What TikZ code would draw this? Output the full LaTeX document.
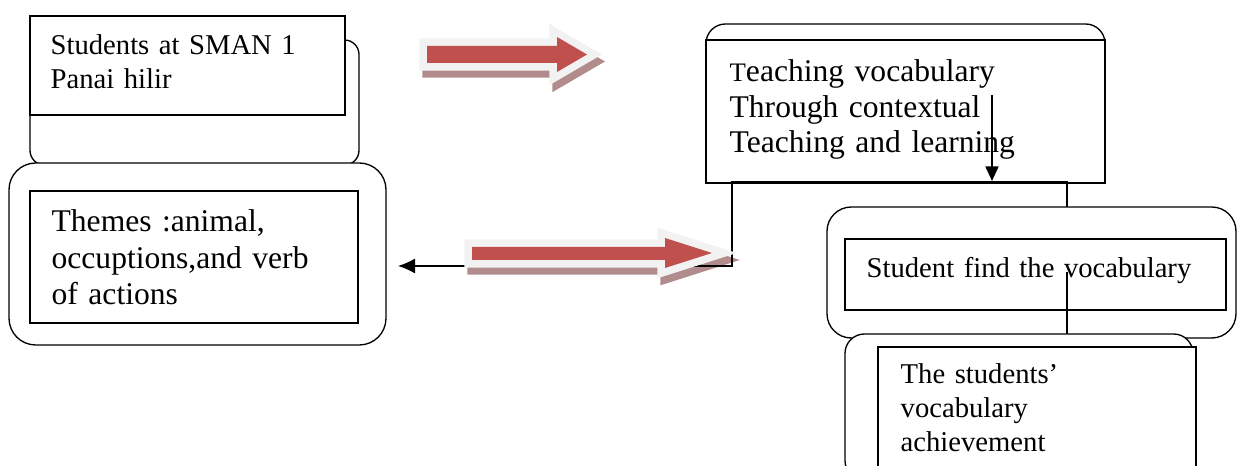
\documentclass[tikz,border=0pt]{standalone}
\usepackage{fontspec}
\setmainfont{Liberation Serif}
\usetikzlibrary{arrows.meta,positioning}
\definecolor{arrowred}{RGB}{192,80,77}
\definecolor{glowgrey}{RGB}{242,242,242}
\definecolor{shadowred}{RGB}{178,140,140}

\begin{document}
\begin{tikzpicture}[x=0.4118pt, y=-0.4118pt, line width=0.55pt,
    box/.style={draw, fill=white},
    rbox/.style={draw, fill=white, rounded corners=#1}, rbox/.default=7pt,
    txt/.style={anchor=base west, inner sep=0pt, text width=200pt, align=left},
    shade/.style={draw=shadowred, fill=shadowred, line width=6.2pt, line join=miter, shift={(3,7)}},
    glow/.style={draw=glowgrey, fill=glowgrey, line width=6.2pt, line join=miter},
    redarrow/.style={fill=arrowred}]
    \useasboundingbox (0,0) rectangle (1237,466);

    % left column
    \draw[rbox=6pt] (30,40) rectangle (359,165);
    \draw[box] (30,16) rectangle (345,115);
    \node[txt, font=\fontsize{11.8}{14}\selectfont] (students) at (50,55) {Students at SMAN 1\\Panai hilir};
    \draw[rbox=11pt] (9,163) rectangle (386,345);
    \draw[box] (30,191) rectangle (358,323);
    \node[txt, font=\fontsize{13}{15}\selectfont] (themes) at (51,232) {Themes :animal,\\occuptions,and verb\\of actions};

    % top right box
    \draw[rbox=8pt] (706,24) rectangle (1105,183);
    \draw[box] (706,40) rectangle (1105,183);
    \node[txt, font=\fontsize{13}{14.6}\selectfont] (teaching) at (729,82)
        {{\fontsize{11}{14}\selectfont T}eaching vocabulary\\Through contextual\\Teaching and learning};
    \coordinate (downtop) at (992,95);
    \coordinate (downend) at (992,181);
    \draw[-{Triangle[length=6pt, width=5.4pt]}] (downtop) -- (downend);

    % shadows of the block arrows
    \foreach \s in {shade}{
        \path[\s] (427,46) -- (557,46) -- (557,37) -- (587,54.5) -- (557,72) -- (557,63) -- (427,63) -- cycle;
        \path[\s] (472,247) -- (665,247) -- (665,238) -- (712,253) -- (665,268) -- (665,260) -- (472,260) -- cycle;
    }

    % elbow connector
    \coordinate (elbowR) at (1067,207);
    \coordinate (cornerR) at (1067,182);
    \coordinate (cornerL) at (732,182);
    \coordinate (bend) at (732,266);
    \coordinate (backtip) at (398,266);
    \draw[-{Latex[length=7pt, width=6.2pt]}] (elbowR) -- (cornerR) -- (cornerL) -- (bend) -- (backtip);

    % block arrows
    \foreach \s in {glow, redarrow}{
        \path[\s] (427,46) -- (557,46) -- (557,37) -- (587,54.5) -- (557,72) -- (557,63) -- (427,63) -- cycle;
        \path[\s] (472,247) -- (665,247) -- (665,238) -- (712,253) -- (665,268) -- (665,260) -- (472,260) -- cycle;
    }

    % lower right boxes
    \draw[rbox=10pt] (827,207) rectangle (1236,338);
    \draw[box] (845,239) rectangle (1226,310);
    \node[txt, font=\fontsize{11.8}{14}\selectfont] (find) at (866,278) {Student find the vocabulary};
    \coordinate (linktop) at (1067,272);
    \coordinate (linkend) at (1067,334);
    \draw (linktop) -- (linkend);
    \draw[rbox=8pt] (845,334) rectangle (1193,480);
    \draw[box] (878,347) rectangle (1196,480);
    \node[txt, font=\fontsize{11.8}{14}\selectfont] (result) at (900,384) {The students’\\vocabulary\\achievement};
\end{tikzpicture}
\end{document}
